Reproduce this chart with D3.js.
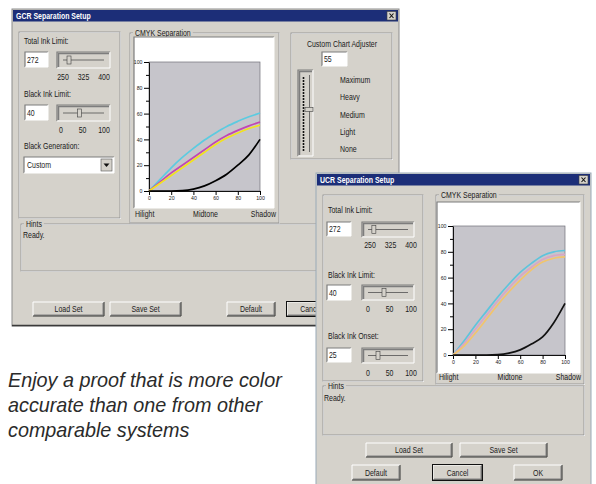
<!DOCTYPE html>
<html>
<head>
<meta charset="utf-8">
<script src="https://cdn.jsdelivr.net/npm/d3@7"></script>
<style>
  body { margin: 0; background: #fff; }
  svg { display: block; }
</style>
</head>
<body>
<svg id="chart" width="596" height="484"></svg>
<script>
var tone = [0, 10, 20, 30, 40, 50, 60, 70, 80, 90, 100];

// GCR curves (first dialog)
var gcrCyan    = [0, 9, 18, 26, 33, 39.5, 45, 50, 54, 57.5, 60.5];
var gcrMagenta = [0, 7, 14, 20, 26, 32, 38, 43, 47, 50.5, 53.5];
var gcrYellow  = [0, 6, 12, 18, 24, 30, 36, 41, 45, 48.5, 51];
var gcrBlack   = [0, 0, 0, 0.3, 1.5, 4, 8, 13, 20, 28, 40];

// UCR curves (second dialog)
var ucrCyan    = [0, 11, 23, 34, 45, 55, 64, 71, 77, 80, 81];
var ucrMagenta = [0, 9, 20, 31, 42, 52, 61, 68, 74, 77, 78];
var ucrYellow  = [0, 7, 17, 28, 39, 49, 58, 66, 72, 75, 76];
var ucrBlack   = [0, 0, 0, 0, 0.3, 1.5, 4, 8.5, 14, 25, 40];

var yTicks = [0, 20, 40, 60, 80, 100];
var yMinor = [10, 30, 50, 70, 90];
var xTicks = [0, 20, 40, 60, 80, 100];
var toneLabels = ["Hilight", "Midtone", "Shadow"];

var totalInkTicks = [250, 325, 400];
var blackTicks = [0, 50, 100];
var adjusterLabels = ["Maximum", "Heavy", "Medium", "Light", "None"];

var totalInk = 272, blackLimit = 40, blackOnset = 25, adjuster = 55;

var caption = ["Enjoy a proof that is more color", "accurate than one from other", "comparable systems"];

// ---- helpers ----
var svg = d3.select("#chart");
var uiFont = "'Liberation Sans', Arial, sans-serif";
var winBg = "#d5d2cb";

function label(g, x, y, txt, anchor, size, fill, weight) {
    return g.append("text")
        .attr("transform", "translate(" + x + "," + y + ") scale(0.82,1)")
        .attr("text-anchor", anchor || "start")
        .attr("font-size", size || 8.5)
        .attr("font-family", uiFont)
        .attr("font-weight", weight || "normal")
        .attr("fill", fill || "#1a1a1a")
        .text(txt);
}

function sunken(g, x, y, w, h, fill) {
    g.append("rect").attr("x", x).attr("y", y).attr("width", w).attr("height", h).attr("fill", fill);
    g.append("path").attr("d", "M" + x + "," + (y + h) + "V" + y + "H" + (x + w))
        .attr("fill", "none").attr("stroke", "#7d7d7d").attr("stroke-width", 1.2);
    g.append("path").attr("d", "M" + x + "," + (y + h) + "H" + (x + w) + "V" + y)
        .attr("fill", "none").attr("stroke", "#fff").attr("stroke-width", 1);
}

function groupBox(g, x, y, w, h, title, bg) {
    g.append("rect").attr("x", x + 0.5).attr("y", y + 0.5).attr("width", w).attr("height", h)
        .attr("fill", "none").attr("stroke", "#fff");
    g.append("rect").attr("x", x).attr("y", y).attr("width", w).attr("height", h)
        .attr("fill", "none").attr("stroke", "#8a8a8a").attr("stroke-width", 0.8);
    if (title) {
        var t = label(g, x + 5, y + 3, title);
        var len = t.node().getComputedTextLength() * 0.82;
        g.insert("rect", function() { return t.node(); })
            .attr("x", x + 3).attr("y", y - 3).attr("width", len + 4).attr("height", 6).attr("fill", bg);
    }
}

function button(g, x, y, w, h, txt, focused) {
    g.append("rect").attr("x", x).attr("y", y).attr("width", w).attr("height", h).attr("fill", winBg);
    g.append("path").attr("d", "M" + x + "," + (y + h) + "V" + y + "H" + (x + w))
        .attr("fill", "none").attr("stroke", "#fff");
    g.append("path").attr("d", "M" + (x + 1) + "," + (y + h - 1) + "H" + (x + w - 1) + "V" + (y + 1))
        .attr("fill", "none").attr("stroke", "#808080");
    g.append("path").attr("d", "M" + x + "," + (y + h) + "H" + (x + w) + "V" + y)
        .attr("fill", "none").attr("stroke", "#303030");
    if (focused) {
        g.append("rect").attr("x", x - 0.5).attr("y", y - 0.5).attr("width", w + 1).attr("height", h + 1)
            .attr("fill", "none").attr("stroke", "#111");
    }
    label(g, x + w / 2, y + h / 2 + 3, txt, "middle");
}

function hSlider(g, x, y, w, h, domain, value) {
    sunken(g, x, y, w, h, winBg);
    g.append("path").attr("d", "M" + (x + 1.5) + "," + (y + h - 1) + "V" + (y + 1.5) + "H" + (x + w - 1))
        .attr("fill", "none").attr("stroke", "#7d7d7d").attr("stroke-width", 1.5);
    var s = d3.scaleLinear().domain(domain).range([x + 6, x + w - 6]);
    var ty = y + h / 2;
    g.append("line").attr("x1", x + 6).attr("x2", x + w - 6).attr("y1", ty).attr("y2", ty)
        .attr("stroke", "#505050").attr("stroke-width", 0.8);
    g.append("rect").attr("x", s(value) - 2).attr("y", ty - 4).attr("width", 4).attr("height", 8)
        .attr("fill", winBg).attr("stroke", "#404040").attr("stroke-width", 0.6);
}

function textBox(g, x, y, w, h, txt) {
    sunken(g, x, y, w, h, "#fff");
    label(g, x + 2, y + h - 4, txt);
}

function windowFrame(g, x, y, w, h, title, stroke) {
    g.append("rect").attr("x", x).attr("y", y).attr("width", w).attr("height", h)
        .attr("fill", winBg).attr("stroke", stroke).attr("stroke-width", 1);
    g.append("rect").attr("x", x + 1).attr("y", y + 1).attr("width", w - 2).attr("height", 11.5)
        .attr("fill", "#1c2e78");
    label(g, x + 4, y + 9.5, title, "start", 8.5, "#fff", "bold");
    var bx = x + w - 12, by = y + 2.5;
    g.append("rect").attr("x", bx).attr("y", by).attr("width", 9).attr("height", 8.5)
        .attr("fill", winBg).attr("stroke", "#404040").attr("stroke-width", 0.6);
    g.append("path").attr("d", "M" + (bx + 2.5) + "," + (by + 2) + "L" + (bx + 6.5) + "," + (by + 6.5) +
        "M" + (bx + 6.5) + "," + (by + 2) + "L" + (bx + 2.5) + "," + (by + 6.5))
        .attr("stroke", "#111").attr("stroke-width", 1.1);
}

function drawChart(g, x0, x1, yBot, yTop, series, colors) {
    var x = d3.scaleLinear().domain([0, 100]).range([x0, x1]);
    var y = d3.scaleLinear().domain([0, 100]).range([yBot, yTop]);

    g.append("rect").attr("x", x0).attr("y", yTop).attr("width", x1 - x0).attr("height", yBot - yTop)
        .attr("fill", "#c6c5cb").attr("stroke", "#6f6f78").attr("stroke-width", 0.7);

    g.append("g").attr("transform", "translate(" + x0 + ",0)")
        .call(d3.axisLeft(y).tickValues(yMinor).tickSize(3).tickFormat(""))
        .call(function(a) { a.select(".domain").remove(); });
    var ya = g.append("g").attr("transform", "translate(" + x0 + ",0)")
        .call(d3.axisLeft(y).tickValues(yTicks).tickSize(5).tickPadding(1.5).tickSizeOuter(0));
    var xa = g.append("g").attr("transform", "translate(0," + yBot + ")")
        .call(d3.axisBottom(x).tickValues(xTicks).tickSize(4).tickPadding(1).tickSizeOuter(0));
    [ya, xa].forEach(function(a) {
        a.selectAll("text").attr("font-size", 5.2).attr("font-family", uiFont).attr("fill", "#222");
        a.select(".domain").attr("stroke", "#111");
    });

    var line = d3.line()
        .x(function(d, i) { return x(tone[i]); })
        .y(function(d) { return y(d); })
        .curve(d3.curveMonotoneX);
    series.forEach(function(s, i) {
        g.append("path").attr("d", line(s)).attr("fill", "none")
            .attr("stroke", colors[i]).attr("stroke-width", 1.7);
    });
}

function toneRow(g, left, right, yPos) {
    var pos = d3.scalePoint().domain(toneLabels).range([left, right]);
    var anchors = ["start", "middle", "end"];
    toneLabels.forEach(function(t, i) { label(g, pos(t), yPos, t, anchors[i]); });
}

function tickRow(g, values, left, right, yPos) {
    var pos = d3.scalePoint().domain(values).range([left, right]);
    values.forEach(function(v) { label(g, pos(v), yPos, v, "middle"); });
}

// ---- first dialog: GCR ----
var g1 = svg.append("g");
windowFrame(g1, 12, 9, 387, 317, "GCR Separation Setup", "#8c8c8c");
g1.append("line").attr("x1", 12).attr("x2", 399).attr("y1", 325.5).attr("y2", 325.5)
    .attr("stroke", "#3a3a3a").attr("stroke-width", 1.5);

groupBox(g1, 19, 32, 101, 186, null, winBg);
label(g1, 24, 44, "Total Ink Limit:");
textBox(g1, 25, 52, 23, 15, totalInk);
hSlider(g1, 57, 52, 53, 16, [250, 400], totalInk);
tickRow(g1, totalInkTicks, 63, 104, 80);
label(g1, 24, 97, "Black Ink Limit:");
textBox(g1, 25, 105, 23, 15, blackLimit);
hSlider(g1, 57, 105, 53, 16, [0, 100], blackLimit);
tickRow(g1, blackTicks, 61, 104, 133);
label(g1, 24, 149, "Black Generation:");
sunken(g1, 24, 157, 90, 16, "#fff");
label(g1, 27, 168, "Custom");
g1.append("rect").attr("x", 101).attr("y", 159).attr("width", 11).attr("height", 12).attr("fill", winBg)
    .attr("stroke", "#555").attr("stroke-width", 0.6);
g1.append("path").attr("d", "M103.5,163.5L109.5,163.5L106.5,167Z").attr("fill", "#111");

groupBox(g1, 130, 33, 149, 190, "CMYK Separation", winBg);
sunken(g1, 134, 37, 140, 171, "#fff");
drawChart(g1, 149, 260, 191, 62, [gcrCyan, gcrMagenta, gcrYellow, gcrBlack],
    ["#5ccbe0", "#c246b4", "#f2e21c", "#000"]);
toneRow(g1, 135, 276, 217);

groupBox(g1, 291, 33, 101, 126, null, winBg);
label(g1, 342, 47, "Custom Chart Adjuster", "middle");
textBox(g1, 322, 52, 25, 14, adjuster);
sunken(g1, 298, 70, 15, 86, winBg);
g1.append("path").attr("d", "M299.5,155V71.5H312").attr("fill", "none").attr("stroke", "#7d7d7d").attr("stroke-width", 1.5);
g1.append("line").attr("x1", 303.5).attr("x2", 303.5).attr("y1", 77).attr("y2", 151)
    .attr("stroke", "#111").attr("stroke-width", 1.6).attr("stroke-dasharray", "2,1");
g1.append("line").attr("x1", 309.5).attr("x2", 309.5).attr("y1", 75).attr("y2", 152)
    .attr("stroke", "#505050").attr("stroke-width", 0.8);
var adj = d3.scaleLinear().domain([0, 100]).range([150, 76]);
g1.append("rect").attr("x", 305).attr("y", adj(adjuster) - 2).attr("width", 8).attr("height", 4)
    .attr("fill", winBg).attr("stroke", "#404040").attr("stroke-width", 0.6);
var adjPos = d3.scalePoint().domain(adjusterLabels).range([83, 152]);
adjusterLabels.forEach(function(t) { label(g1, 340, adjPos(t), t); });

groupBox(g1, 21, 224, 371, 47, "Hints", winBg);
label(g1, 23, 238, "Ready.");

button(g1, 33, 302, 71, 14, "Load Set");
button(g1, 110, 302, 71, 14, "Save Set");
button(g1, 227, 302, 48, 14, "Default");
button(g1, 287, 302, 48, 14, "Cancel", true);

// ---- caption ----
caption.forEach(function(t, i) {
    svg.append("text").attr("x", 8).attr("y", 387 + i * 25)
        .attr("font-family", "'Liberation Sans', Arial, Helvetica, sans-serif")
        .attr("font-style", "italic").attr("font-size", 19.8).attr("fill", "#2b2b2b")
        .text(t);
});

// ---- second dialog: UCR ----
var g2 = svg.append("g");
windowFrame(g2, 316, 173, 275, 312, "UCR Separation Setup", "#9aaab8");

groupBox(g2, 323, 195, 100, 186, null, winBg);
label(g2, 328, 213, "Total Ink Limit:");
textBox(g2, 327, 222, 24, 14, totalInk);
hSlider(g2, 362, 222, 52, 15, [250, 400], totalInk);
tickRow(g2, totalInkTicks, 370, 411, 248);
label(g2, 328, 278, "Black Ink Limit:");
textBox(g2, 327, 285, 24, 15, blackLimit);
hSlider(g2, 362, 285, 52, 15, [0, 100], blackLimit);
tickRow(g2, blackTicks, 368, 411, 312);
label(g2, 328, 339, "Black Ink Onset:");
textBox(g2, 327, 348, 24, 14, blackOnset);
hSlider(g2, 362, 348, 52, 15, [0, 100], blackOnset);
tickRow(g2, blackTicks, 368, 411, 376);

groupBox(g2, 436, 195, 148, 189, "CMYK Separation", winBg);
sunken(g2, 437, 202, 143, 171, "#fff");
drawChart(g2, 453, 565, 355, 226, [ucrCyan, ucrMagenta, ucrYellow, ucrBlack],
    ["#5ec4dc", "#d9a6c4", "#f1c46c", "#111"]);
toneRow(g2, 439, 581, 380);

groupBox(g2, 323, 386, 261, 49, "Hints", winBg);
label(g2, 324, 401, "Ready.");

button(g2, 366, 443, 86, 14, "Load Set");
button(g2, 460, 443, 87, 14, "Save Set");
button(g2, 352, 465, 48, 15, "Default");
button(g2, 433, 465, 49, 15, "Cancel", true);
button(g2, 514, 465, 48, 15, "OK");
</script>
</body>
</html>
